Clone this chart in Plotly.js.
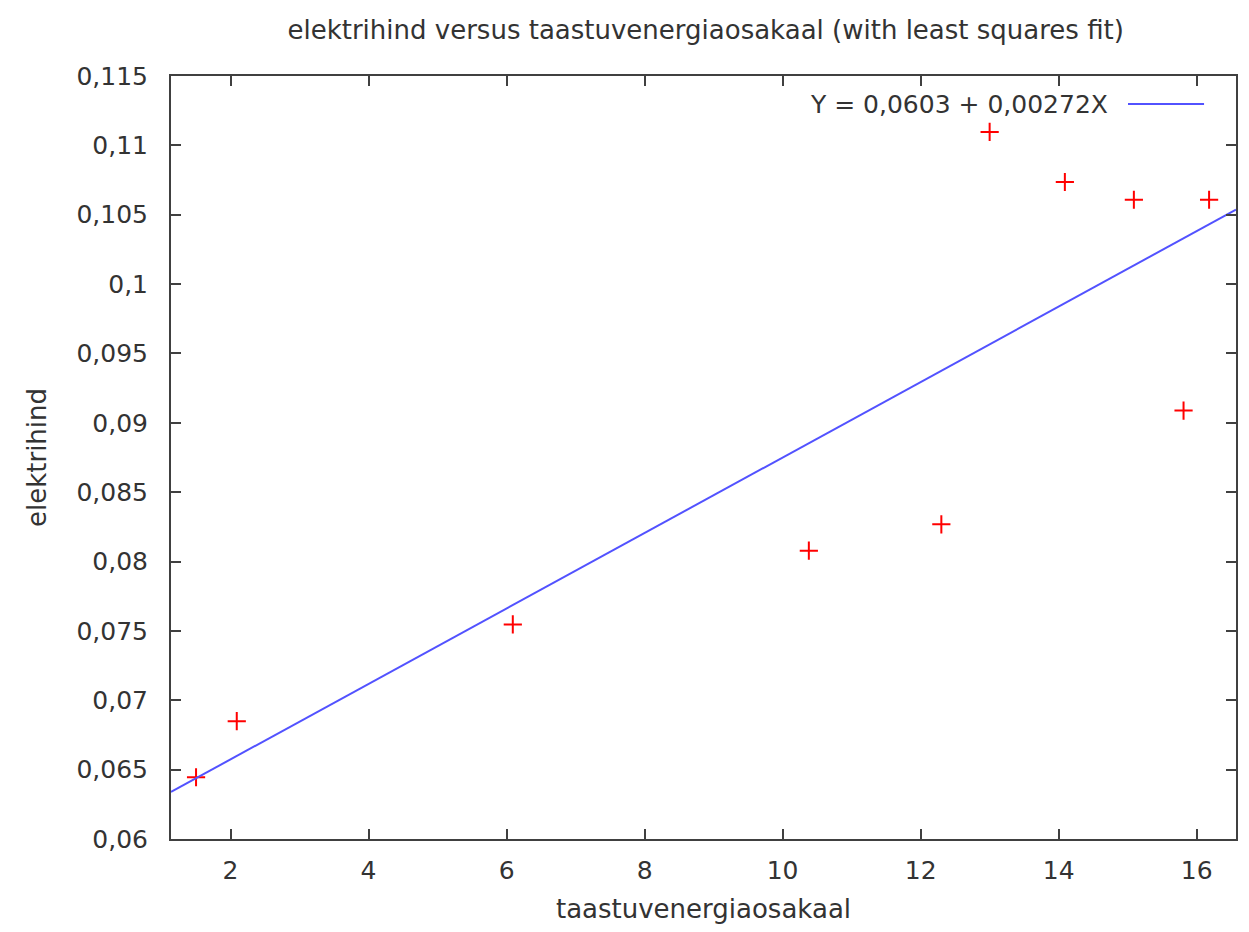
<!DOCTYPE html>
<html>
<head>
<meta charset="utf-8">
<script src="https://cdn.plot.ly/plotly-3.0.1.min.js"></script>
<style>html,body{margin:0;padding:0;background:#fff;}#chart{width:1249px;height:932px;}</style>
</head>
<body>
<div id="chart"></div>
<script>
const xValues = [1.50, 2.09, 6.09, 10.38, 12.30, 13.00, 14.09, 15.09, 15.81, 16.18];
const yValues = [0.06445, 0.06849, 0.07547, 0.08078, 0.08268, 0.11097, 0.10736, 0.10608, 0.09088, 0.10608];
const fitIntercept = 0.0603;
const fitSlope = 0.00272;
const xRange = [1.137, 16.57];
const yRange = [0.06, 0.115];
const xTickVals = [2, 4, 6, 8, 10, 12, 14, 16];
const xTickText = ["2", "4", "6", "8", "10", "12", "14", "16"];
const yTickVals = [0.06, 0.065, 0.07, 0.075, 0.08, 0.085, 0.09, 0.095, 0.1, 0.105, 0.11, 0.115];
const yTickText = ["0,06", "0,065", "0,07", "0,075", "0,08", "0,085", "0,09", "0,095", "0,1", "0,105", "0,11", "0,115"];
const legendLabel = "Y = 0,0603 + 0,00272X";

const fitX = xRange.slice();
const fitY = fitX.map(x => fitIntercept + fitSlope * x);

const FONT = "DejaVu Sans, Verdana, sans-serif";
const TXT = "#333333";
const AX = "#404040";
const FS = 25;

const traces = [
  {
    x: xValues, y: yValues, type: "scatter", mode: "markers",
    marker: {symbol: "cross-thin", size: 13, color: "#ff0000", line: {color: "#ff0000", width: 2}},
    showlegend: false, hoverinfo: "x+y"
  },
  {
    x: fitX, y: fitY, type: "scatter", mode: "lines",
    line: {color: "#5252ff", width: 2},
    showlegend: false
  }
];

const axisCommon = {
  showgrid: false, zeroline: false, showline: true, linecolor: AX, linewidth: 2,
  mirror: "allticks", ticks: "inside", ticklen: 10, tickwidth: 2, tickcolor: AX,
  tickfont: {family: FONT, size: FS, color: TXT}
};

const layout = {
  width: 1249, height: 932,
  margin: {l: 171, r: 13, t: 76, b: 93},
  paper_bgcolor: "#ffffff", plot_bgcolor: "#ffffff",
  separators: ",.",
  title: {text: "elektrihind versus taastuvenergiaosakaal (with least squares fit)",
          font: {family: FONT, size: 26, color: TXT}, x: 0.565, xanchor: "center", y: 0.968, yanchor: "middle"},
  xaxis: Object.assign({}, axisCommon, {
    range: xRange, tickmode: "array", tickvals: xTickVals, ticktext: xTickText,
    ticklabelstandoff: 8,
    title: {text: "taastuvenergiaosakaal", font: {family: FONT, size: 26, color: TXT}, standoff: 16}
  }),
  yaxis: Object.assign({}, axisCommon, {
    range: yRange, tickmode: "array", tickvals: yTickVals, ticktext: yTickText,
    ticklabelstandoff: 16,
    title: {text: "elektrihind", font: {family: FONT, size: 26, color: TXT}, standoff: 22}
  }),
  annotations: [
    {xref: "paper", yref: "paper", x: 0.8817, y: 0.9633, xanchor: "right", yanchor: "middle",
     text: legendLabel, showarrow: false, font: {family: FONT, size: FS, color: TXT}}
  ],
  shapes: [
    {type: "line", xref: "paper", yref: "paper", x0: 0.8986, x1: 0.9700, y0: 0.9633, y1: 0.9633,
     line: {color: "#5252ff", width: 2}}
  ]
};

Plotly.newPlot("chart", traces, layout, {displayModeBar: false, staticPlot: true});
</script>
</body>
</html>
